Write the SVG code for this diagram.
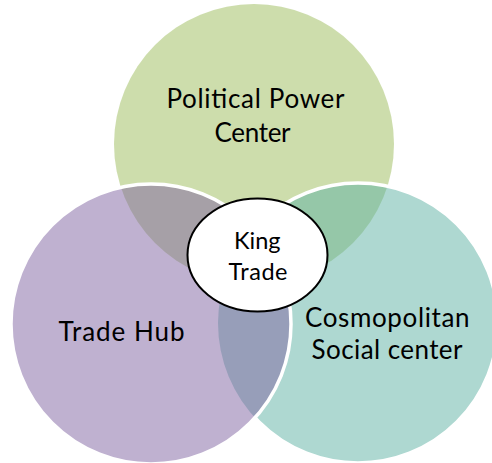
<svg xmlns="http://www.w3.org/2000/svg" width="492" height="463" viewBox="0 0 492 463">
<style>
.lbl{font-family:Lato,"Open Sans","Liberation Sans",sans-serif;font-size:26px;fill:#000}
.ctr{font-size:23.5px}
.ring{stroke:#fff;stroke-width:3.5}
</style>
<defs>
<clipPath id="outsidePurple">
<path clip-rule="evenodd" d="M0 0H492V463H0Z M11 324a140 140 0 1 0 280 0a140 140 0 1 0 -280 0Z"/>
</clipPath>
</defs>
<rect width="492" height="463" fill="#fff"/>
<g id="political">
<circle cx="254" cy="144" r="140" fill="#9BBB59" fill-opacity="0.5"/>
<text class="lbl" x="166.5" y="108" textLength="178">Political Power</text>
<text class="lbl" x="214.5" y="141.5" textLength="76">Center</text>
</g>
<g id="cosmopolitan">
<circle cx="358" cy="323" r="140" fill="#5DB1A3" fill-opacity="0.5"/>
<circle cx="358" cy="323" r="140" fill="none" class="ring" clip-path="url(#outsidePurple)"/>
<text class="lbl" x="305" y="326.7" textLength="164.5">Cosmopolitan</text>
<text class="lbl" x="311.5" y="359.3" textLength="151">Social center</text>
</g>
<g id="tradehub">
<circle cx="151" cy="324" r="140" fill="#8064A2" fill-opacity="0.5" class="ring"/>
<text class="lbl" x="58.5" y="340.7" textLength="126">Trade Hub</text>
</g>
<g id="king">
<ellipse cx="257.5" cy="255" rx="70" ry="56.5" fill="#fff" stroke="#000" stroke-width="2"/>
<text class="lbl ctr" x="234" y="249" textLength="46.5">King</text>
<text class="lbl ctr" x="228.5" y="280" textLength="59">Trade</text>
</g>
</svg>
